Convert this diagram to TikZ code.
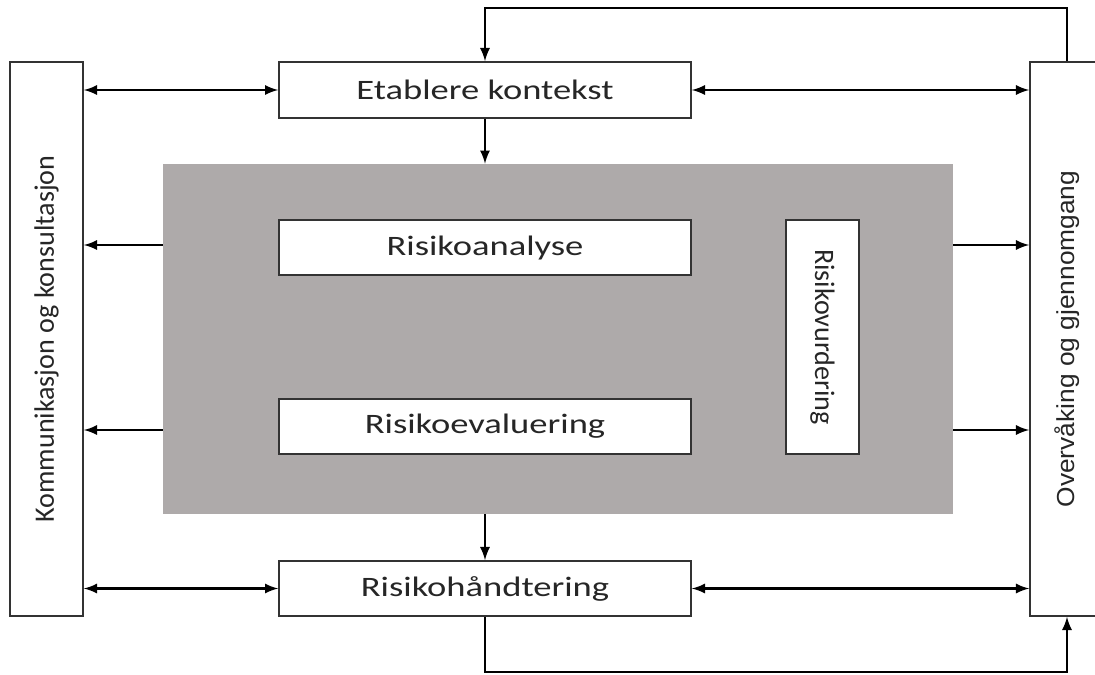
\documentclass[tikz,border=0pt]{standalone}
\usepackage{fontspec}
\setmainfont{Carlito}
\newfontfamily\widefont[FakeStretch=1.3]{Carlito}
\newfontfamily\narrowsans[FakeStretch=1.07]{Liberation Sans}
\usepackage{xcolor}
\usetikzlibrary{arrows}
\definecolor{panelgray}{RGB}{174,170,170}
\tikzset{
    box/.style={draw=black!80, line width=0.35mm, fill=white, text=black!85, inner sep=0pt,
        font=\fontsize{16}{18}\selectfont},
    stepbox/.style={box, minimum width=8.24cm, minimum height=1.1cm, font=\fontsize{16}{18}\widefont},
    link/.style={line width=0.55mm},
}

\begin{document}
\begin{tikzpicture}[x=0.02cm,y=-0.02cm]
    \useasboundingbox (0,0) rectangle (1095,674);
    % grey panel with the assessment steps
    \node[fill=panelgray, minimum width=15.8cm, minimum height=7cm] (panel) at (558,339) {};
    \node[stepbox] (analyse) at (485,247.5) {Risikoanalyse};
    \node[stepbox] (evaluering) at (485,426.5) {Risikoevaluering};
    \node[box, minimum width=1.46cm, minimum height=4.68cm] (vurdering) at (822.5,337) {\rotatebox{-90}{Risikovurdering}};
    \node[stepbox, minimum height=1.12cm] (etab) at (485,90) {Etablere kontekst};
    \node[stepbox] (handtering) at (485,588.5) {Risikohåndtering};
    % side columns
    \node[box, minimum width=1.46cm, minimum height=11.08cm] (komm) at (46.5,339) {\rotatebox{90}{Kommunikasjon og konsultasjon}};
    \node[box, minimum width=1.48cm, minimum height=11.08cm, font=\fontsize{14}{16}\narrowsans] (overv) at (1067,339) {\rotatebox{90}{Overvåking og gjennomgang}};

    \draw[link, latex-latex] (komm.east |- etab.west) -- (etab.west);
    \draw[link, latex-latex] (etab.east) -- (overv.west |- etab.east);
    \draw[link, latex-latex] (komm.east |- handtering.west) -- (handtering.west);
    \draw[link, latex-latex] (handtering.east) -- (overv.west |- handtering.east);
    \draw[link, -latex] (etab.south) -- (etab.south |- panel.north);
    \draw[link, -latex] (handtering.north |- panel.south) -- (handtering.north);
    \foreach \row/\ypos in {analyse/245, evaluering/430} {
        \coordinate (tap) at (0,\ypos);
        \draw[link, -latex] (panel.west |- tap) -- (komm.east |- tap);
        \draw[link, -latex] (panel.east |- tap) -- (overv.west |- tap);
    }
    % feedback loop
    \coordinate (fbtop) at (485,8);
    \coordinate (fbbot) at (485,672);
    \draw[link, -latex] (overv.north) |- (fbtop) -- (etab.north);
    \draw[link, -latex] (handtering.south) -- (fbbot) -| (overv.south);
\end{tikzpicture}
\end{document}
